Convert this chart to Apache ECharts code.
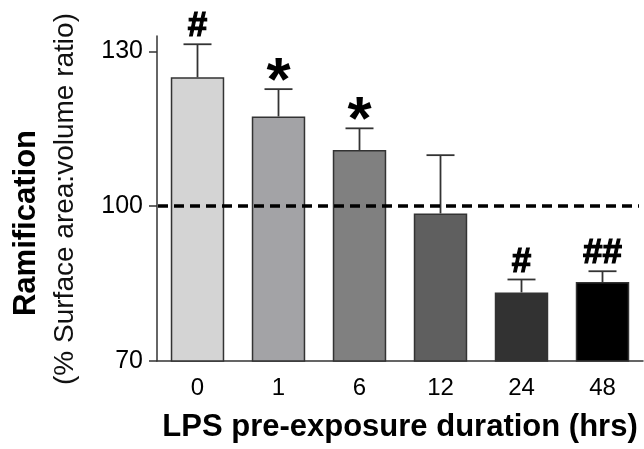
<!DOCTYPE html>
<html>
<head>
<meta charset="utf-8">
<script src="https://cdn.jsdelivr.net/npm/echarts@6/dist/echarts.min.js"></script>
<style>
  html, body { margin: 0; padding: 0; background: #fff; }
  #chart { width: 644px; height: 449px; }
</style>
</head>
<body>
<div id="chart"></div>
<script>
// data
var categories = ['0', '1', '6', '12', '24', '48'];
var means = [125.0, 117.4, 110.9, 98.6, 83.3, 85.3];
var errors = [6.4, 5.3, 4.2, 11.3, 2.5, 2.1];     // upper whisker only
var marks = ['#', '*', '*', '', '#', '##'];
var barColors = ['#d4d4d4', '#a3a3a6', '#808080', '#5f5f5f', '#323232', '#000000'];
var yTicks = [70, 100, 130];
var baseline = 100;

var font = '"Liberation Sans", Arial, sans-serif';

var chart = echarts.init(document.getElementById('chart'));

var option = {
    animation: false,
    grid: { left: 157, right: 1, top: 36, bottom: 88 },
    xAxis: {
        type: 'category',
        data: categories,
        axisLine: { lineStyle: { color: '#333', width: 1.5 } },
        axisTick: { alignWithLabel: true, length: 9, lineStyle: { color: '#333', width: 1.5 } },
        axisLabel: { color: '#000', fontSize: 24, fontFamily: font, margin: 15 },
        name: '{b|LPS} pre-exposure duration (hrs)',
        nameLocation: 'middle',
        nameGap: 51,
        nameTextStyle: {
            color: '#000', fontSize: 31, fontFamily: font, fontWeight: 'bold',
            rich: { b: { fontSize: 31, fontFamily: font, fontWeight: 'bold', color: '#000' } }
        }
    },
    yAxis: {
        type: 'value',
        min: 70,
        max: 133,
        splitLine: { show: false },
        axisLine: { show: true, lineStyle: { color: '#333', width: 1.5 } },
        axisTick: { show: true, length: 8, customValues: yTicks, lineStyle: { color: '#333', width: 1.5 } },
        axisLabel: { customValues: yTicks, color: '#000', fontSize: 25, fontFamily: font, margin: 14 }
    },
    graphic: [
        {
            type: 'text', x: 26, y: 223, rotation: Math.PI / 2,
            style: { text: 'Ramification', fontSize: 31, fontWeight: 'bold', fontFamily: font,
                     fill: '#000', align: 'center', verticalAlign: 'middle' }
        },
        {
            type: 'text', x: 65, y: 199, rotation: Math.PI / 2,
            style: { text: '(% Surface area:volume ratio)', fontSize: 28, fontFamily: font,
                     fill: '#111', align: 'center', verticalAlign: 'middle' }
        }
    ],
    series: [
        {
            type: 'bar',
            barWidth: '66%',
            data: means.map(function (v, i) {
                return { value: v, itemStyle: { color: barColors[i] } };
            }),
            itemStyle: { borderColor: '#333', borderWidth: 1.5 },
            markLine: {
                silent: true,
                symbol: 'none',
                label: { show: false },
                lineStyle: { color: '#000', width: 3.5, type: [10, 6] },
                data: [[{ yAxis: baseline, x: 158 }, { yAxis: baseline, x: 639 }]]
            },
            z: 2
        },
        {
            type: 'custom',
            data: means.map(function (v, i) { return [i, v, v + errors[i]]; }),
            renderItem: function (params, api) {
                var i = api.value(0);
                var p0 = api.coord([i, api.value(1)]);
                var p1 = api.coord([i, api.value(2)]);
                var half = 14;
                var m = marks[i];
                var children = [
                    { type: 'line', shape: { x1: p0[0], y1: p0[1], x2: p1[0], y2: p1[1] },
                      style: { stroke: '#333', lineWidth: 1.8 } },
                    { type: 'line', shape: { x1: p0[0] - half, y1: p1[1], x2: p0[0] + half, y2: p1[1] },
                      style: { stroke: '#333', lineWidth: 1.8 } }
                ];
                if (m) {
                    var star = m === '*';
                    children.push({
                        type: 'text',
                        x: p0[0],
                        y: star ? p1[1] + 25 : p1[1],
                        style: {
                            text: m, fill: '#000', fontFamily: font, fontWeight: 'bold',
                            stroke: star ? null : '#000', lineWidth: star ? 0 : 1.2,
                            fontSize: star ? 62 : 35, align: 'center', verticalAlign: 'bottom'
                        }
                    });
                }
                return { type: 'group', children: children };
            },
            z: 3
        }
    ]
};

chart.setOption(option);
</script>
</body>
</html>
